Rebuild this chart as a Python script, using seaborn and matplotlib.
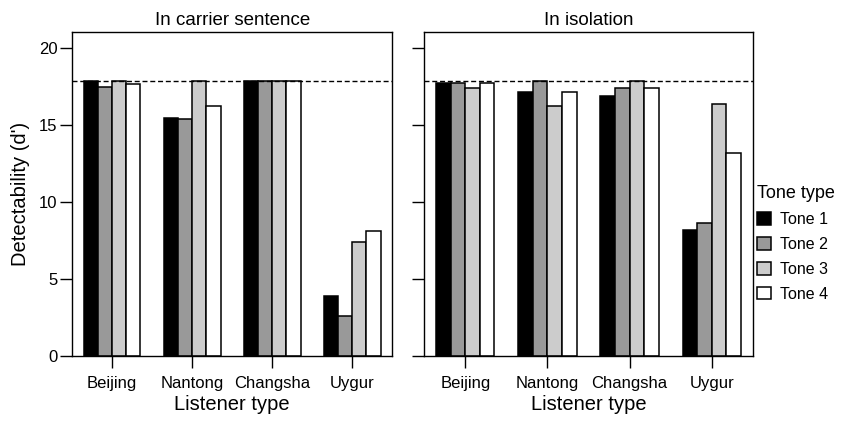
import matplotlib
matplotlib.use("Agg")
import matplotlib.pyplot as plt
import seaborn as sns
import pandas as pd

# Listener groups, tone categories and condition panels
listeners = ["Beijing", "Nantong", "Changsha", "Uygur"]
tones = ["Tone 1", "Tone 2", "Tone 3", "Tone 4"]
conditions = ["In carrier sentence", "In isolation"]

# Ceiling d' value (dashed reference line)
ceiling = 17.88

# d' values, carrier-sentence condition (one list per tone, ordered by listener)
carrier_tone1 = [17.88, 15.45, 17.88, 3.90]
carrier_tone2 = [17.46, 15.41, 17.88, 2.62]
carrier_tone3 = [17.88, 17.88, 17.88, 7.43]
carrier_tone4 = [17.68, 16.25, 17.88, 8.15]

# d' values, isolation condition
isolation_tone1 = [17.72, 17.14, 16.92, 8.17]
isolation_tone2 = [17.72, 17.88, 17.40, 8.67]
isolation_tone3 = [17.44, 16.25, 17.88, 16.34]
isolation_tone4 = [17.72, 17.14, 17.40, 13.22]

y_ticks = [0, 5, 10, 15, 20]
tone_colors = ["#000000", "#999999", "#cccccc", "#ffffff"]

rows = []
for cond, series in zip(conditions, [
        [carrier_tone1, carrier_tone2, carrier_tone3, carrier_tone4],
        [isolation_tone1, isolation_tone2, isolation_tone3, isolation_tone4]]):
    for tone, vals in zip(tones, series):
        for lis, v in zip(listeners, vals):
            rows.append({"Condition": cond, "Tone": tone, "Listener": lis, "d": v})
df = pd.DataFrame(rows)

sns.set_theme(style="ticks")
plt.rcParams["font.family"] = ["Liberation Sans", "DejaVu Sans"]
plt.rcParams["axes.linewidth"] = 1.0
plt.rcParams["xtick.major.width"] = 1.0
plt.rcParams["ytick.major.width"] = 1.0
plt.rcParams["xtick.major.size"] = 8.6
plt.rcParams["ytick.major.size"] = 8.6
plt.rcParams["xtick.color"] = "black"
plt.rcParams["ytick.color"] = "black"
plt.rcParams["axes.edgecolor"] = "black"
plt.rcParams["text.color"] = "black"
plt.rcParams["axes.labelcolor"] = "black"

fig = plt.figure(figsize=(8.44, 4.21), dpi=100)
ax_left = fig.add_axes([72 / 844, 1 - 356 / 421, 320.3 / 844, 324 / 421])
ax_right = fig.add_axes([424.3 / 844, 1 - 356 / 421, 328.4 / 844, 324 / 421])

for ax, cond in zip([ax_left, ax_right], conditions):
    sub = df[df["Condition"] == cond]
    sns.barplot(data=sub, x="Listener", y="d", hue="Tone",
                order=listeners, hue_order=tones, palette=tone_colors,
                edgecolor="black", linewidth=1.1, width=0.71, gap=0,
                errorbar=None, saturation=1, ax=ax, legend=(ax is ax_left))
    ax.set_xlim(-0.5, 3.5)
    ax.set_ylim(0, 21.05)
    ax.set_yticks(y_ticks)
    ax.axhline(ceiling, color="black", linestyle=(0, (3.6, 2.0)), linewidth=1.0, zorder=5)
    ax.set_title(cond, fontsize=13.5, pad=5)
    ax.set_xlabel("Listener type", fontsize=14.5, labelpad=3)
    ax.tick_params(axis="x", labelsize=12, pad=6)
    ax.tick_params(axis="y", labelsize=12, pad=2)
    for s in ax.spines.values():
        s.set_visible(True)
        s.set_color("black")

ax_left.set_ylabel("Detectability (d')", fontsize=14.5, labelpad=6)
ax_right.set_ylabel("")
ax_right.set_yticklabels([])

handles, labels = ax_left.get_legend_handles_labels()
ax_left.get_legend().remove()
leg = fig.legend(handles, labels, title="Tone type", loc="upper left",
                 bbox_to_anchor=(757 / 844, 1 - 185 / 421), frameon=False,
                 fontsize=11.5, title_fontsize=13, handlelength=0.85,
                 handleheight=0.85, handletextpad=0.6, labelspacing=0.62,
                 borderaxespad=0, borderpad=0, alignment="left")

fig.savefig("out.png", dpi=100)
